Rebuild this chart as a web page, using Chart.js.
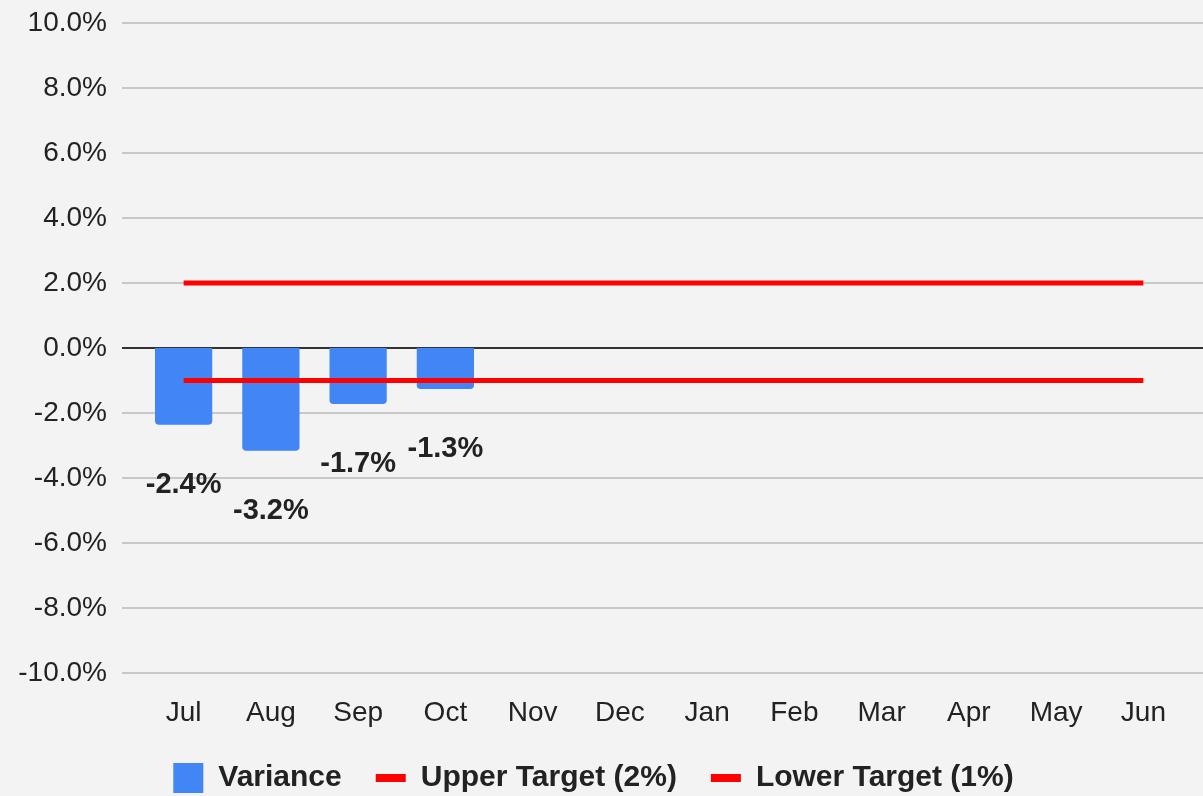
<!DOCTYPE html>
<html>
<head>
<meta charset="utf-8">
<script src="https://cdn.jsdelivr.net/npm/chart.js@4"></script>
<style>
  html, body { margin: 0; padding: 0; background: #f3f3f3; overflow: hidden; }
  #wrap { position: relative; width: 1203px; height: 803px; }
</style>
</head>
<body>
<div id="wrap"><canvas id="chart_variance"></canvas></div>
<script>
// data (values in percent)
const months = ['Jul', 'Aug', 'Sep', 'Oct', 'Nov', 'Dec', 'Jan', 'Feb', 'Mar', 'Apr', 'May', 'Jun'];
const variance = [-2.36, -3.16, -1.72, -1.26, null, null, null, null, null, null, null, null];
const upperTarget = [2, 2, 2, 2, 2, 2, 2, 2, 2, 2, 2, 2];
const lowerTarget = [-1, -1, -1, -1, -1, -1, -1, -1, -1, -1, -1, -1];
const yTicks = { min: -10, max: 10, step: 2 };

const FONT = "'Liberation Sans', Arial, sans-serif";

var chart_variance = new Chart(document.getElementById('chart_variance'), {
    type: 'bar',
    data: {
        labels: months,
        datasets: [
            {
                label: 'Variance',
                data: variance,
                backgroundColor: '#4285f4',
                borderRadius: { topLeft: 0, topRight: 0, bottomLeft: 4, bottomRight: 4 },
                borderSkipped: false,
                categoryPercentage: 0.8,
                barPercentage: 0.82,
                pointStyle: 'rect',
                order: 1
            },
            {
                label: 'Upper Target (2%)',
                type: 'line',
                data: upperTarget,
                borderColor: '#ff0000',
                backgroundColor: '#ff0000',
                borderWidth: 5,
                pointRadius: 0,
                pointStyle: 'line',
                order: 0
            },
            {
                label: 'Lower Target (1%)',
                type: 'line',
                data: lowerTarget,
                borderColor: '#ff0000',
                backgroundColor: '#ff0000',
                borderWidth: 5,
                pointRadius: 0,
                pointStyle: 'line',
                order: 0
            }
        ]
    },
    options: {
        animation: false,
        responsive: true,
        maintainAspectRatio: false,
        layout: {
            padding: { top: 23, right: 16, left: 0, bottom: 0 }
        },
        plugins: {
            legend: {
                position: 'bottom',
                labels: {
                    usePointStyle: true,
                    pointStyleWidth: 30,
                    boxHeight: 30,
                    padding: 34,
                    color: '#222',
                    font: { family: FONT, size: 30, weight: 'bold' },
                    sort: (a, b) => a.datasetIndex - b.datasetIndex,
                    generateLabels: (chart) => {
                        const items = Chart.defaults.plugins.legend.labels.generateLabels(chart);
                        items.forEach(it => {
                            it.lineWidth = it.pointStyle === 'line' ? 8 : 0;
                        });
                        return items;
                    }
                }
            },
            tooltip: { enabled: false }
        },
        scales: {
            x: {
                grid: { display: false, drawTicks: false },
                border: { display: false },
                ticks: {
                    color: '#222',
                    padding: 23,
                    maxRotation: 0,
                    font: { family: FONT, size: 28 }
                },
                afterFit: (scale) => { scale.height = 56; }
            },
            y: {
                min: yTicks.min,
                max: yTicks.max,
                grid: { display: false, drawTicks: false },
                border: { display: false },
                ticks: {
                    stepSize: yTicks.step,
                    color: '#222',
                    padding: 33,
                    font: { family: FONT, size: 28 },
                    callback: (v) => v.toFixed(1) + '%'
                },
                afterFit: (scale) => {
                    scale.width = 140;
                    scale.paddingTop = 0;
                    scale.paddingBottom = 0;
                }
            }
        }
    },
    plugins: [{
        id: 'wideGrid',
        beforeDatasetsDraw: (chart) => {
            const ctx = chart.ctx;
            const y = chart.scales.y;
            ctx.save();
            y.ticks.forEach(t => {
                const py = Math.round(y.getPixelForValue(t.value));
                ctx.beginPath();
                ctx.lineWidth = 2;
                ctx.strokeStyle = t.value === 0 ? '#333333' : '#c8c8c8';
                ctx.moveTo(122, py);
                ctx.lineTo(chart.width, py);
                ctx.stroke();
            });
            ctx.restore();
        }
    }, {
        id: 'barLabels',
        afterDatasetsDraw: (chart) => {
            const ctx = chart.ctx;
            const meta = chart.getDatasetMeta(0);
            ctx.save();
            ctx.fillStyle = '#222';
            ctx.font = 'bold 29px ' + FONT;
            ctx.textAlign = 'center';
            ctx.textBaseline = 'middle';
            meta.data.forEach((bar, i) => {
                const v = variance[i];
                if (v === null) return;
                ctx.fillText(v.toFixed(1) + '%', bar.x, bar.y + 60);
            });
            ctx.restore();
        }
    }]
});
</script>
</body>
</html>
